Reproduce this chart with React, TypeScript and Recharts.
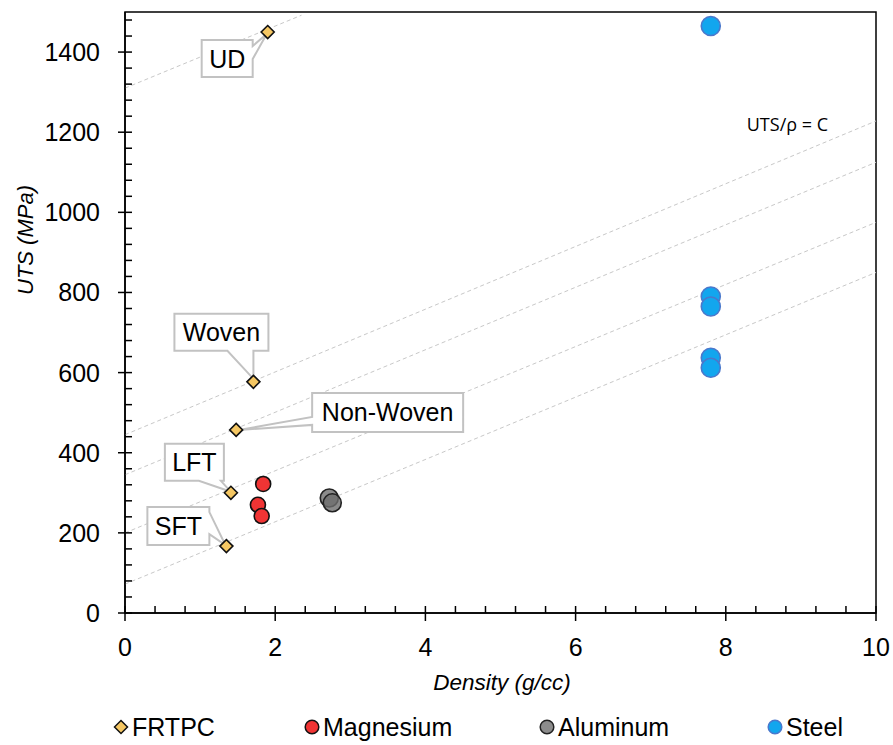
import React from 'react';
import {
  ScatterChart,
  Scatter,
  XAxis,
  YAxis,
  ReferenceLine,
  ReferenceArea,
  ReferenceDot,
  Legend,
  Label,
} from 'recharts';

// ---------- data ----------
const frtpcDensity = [1.9, 1.71, 1.48, 1.41, 1.35];
const frtpcUts = [1450, 577, 457, 300, 167];
const frtpcLabels = ['UD', 'Woven', 'Non-Woven', 'LFT', 'SFT'];

const magnesiumDensity = [1.84, 1.77, 1.82];
const magnesiumUts = [322, 270, 242];

const aluminumDensity = [2.72, 2.76];
const aluminumUts = [287, 275];

const steelDensity = [7.8, 7.8, 7.8, 7.8, 7.8];
const steelUts = [1465, 790, 765, 637, 612];

// dashed guide lines (start / end in data units)
const guideStartX = [0, 0, 0, 0, 0];
const guideStartY = [1310, 445, 345, 200, 72];
const guideEndX = [2.35, 10, 10, 10, 10];
const guideEndY = [1492, 1228, 1125, 975, 850];

const guideNote = 'UTS/ρ = C';
const guideNoteX = 8.82;
const guideNoteY = 1218;

// axis ticks
const xMajorTicks = [0, 2, 4, 6, 8, 10];
const yMajorTicks = [0, 200, 400, 600, 800, 1000, 1200, 1400];
const xMinorPerMajor = 5;
const yMinorPerMajor = 5;
const xDomain = [0, 10];
const yDomain = [0, 1500];

const xTitle = 'Density (g/cc)';
const yTitle = 'UTS (MPa)';

const seriesNames = ['FRTPC', 'Magnesium', 'Aluminum', 'Steel'];

// ---------- styles ----------
const FONT = '"Liberation Sans", Arial, Helvetica, sans-serif';
const W = 893;
const H = 745;
const TICK_SIZE = 8;
const TICK_MARGIN = 17;

const COLORS = {
  frtpc: '#F5C763',
  magnesium: '#F03434',
  aluminum: '#6E6E6E',
  steel: '#12A6EE',
  steelStroke: '#4A78CC',
  guide: '#C8C8C8',
  callout: '#C2C2C2',
};

// callout layout, pixel offsets relative to the marker
const calloutLayout = [
  { box: [-66, 8, -15, 45], side: 'right', base: [14, 27], tip: [-1, 2] },
  { box: [-79, -68, 15, -31], side: 'bottom', base: [-26, 0], tip: [0, -3] },
  { box: [76, -37, 227, 2], side: 'left', base: [-13, -5], tip: [3, 0] },
  { box: [-66, -49, -7, -12], side: 'bottom', base: [-32, -10], tip: [0, -1] },
  { box: [-79, -39, -17, -1], side: 'right', base: [-34, -12], tip: [-1, -1] },
];

const legendLeft = [113, 304, 539, 767];

// ---------- tables ----------
const frtpcData = frtpcDensity.map((x, i) => ({ x, y: frtpcUts[i], label: frtpcLabels[i], idx: i }));
const magnesiumData = magnesiumDensity.map((x, i) => ({ x, y: magnesiumUts[i] }));
const aluminumData = aluminumDensity.map((x, i) => ({ x, y: aluminumUts[i] }));
const steelData = steelDensity.map((x, i) => ({ x, y: steelUts[i] }));

function subdivide(major: number[], n: number): number[] {
  const out: number[] = [];
  for (let i = 0; i < major.length; i++) {
    out.push(major[i]);
    if (i < major.length - 1) {
      const step = (major[i + 1] - major[i]) / n;
      for (let k = 1; k < n; k++) out.push(Math.round((major[i] + k * step) * 1000) / 1000);
    }
  }
  return out;
}
const xTicks = subdivide(xMajorTicks, xMinorPerMajor);
const yTicksBase = subdivide(yMajorTicks, yMinorPerMajor);
const yStep = (yMajorTicks[1] - yMajorTicks[0]) / yMinorPerMajor;
const yTicks = [...yTicksBase];
for (let v = yMajorTicks[yMajorTicks.length - 1] + yStep; v < yDomain[1]; v += yStep) yTicks.push(v);

// ---------- renderers ----------
function calloutPath(cx: number, cy: number, c: any): string {
  const x0 = cx + c.box[0];
  const y0 = cy + c.box[1];
  const x1 = cx + c.box[2];
  const y1 = cy + c.box[3];
  const tx = cx + c.tip[0];
  const ty = cy + c.tip[1];
  const lo = Math.min(c.base[0], c.base[1]);
  const hi = Math.max(c.base[0], c.base[1]);
  const pts: number[][] = [];
  pts.push([x0, y0]);
  if (c.side === 'top') pts.push([cx + lo, y0], [tx, ty], [cx + hi, y0]);
  pts.push([x1, y0]);
  if (c.side === 'right') pts.push([x1, cy + lo], [tx, ty], [x1, cy + hi]);
  pts.push([x1, y1]);
  if (c.side === 'bottom') pts.push([cx + hi, y1], [tx, ty], [cx + lo, y1]);
  pts.push([x0, y1]);
  if (c.side === 'left') pts.push([x0, cy + hi], [tx, ty], [x0, cy + lo]);
  return 'M' + pts.map((p) => p.join(',')).join('L') + 'Z';
}

const Diamond = ({ cx, cy, r = 6.5 }: any) => (
  <polygon
    points={`${cx},${cy - r} ${cx + r},${cy} ${cx},${cy + r} ${cx - r},${cy}`}
    fill={COLORS.frtpc}
    stroke="#111"
    strokeWidth={1.6}
  />
);

const FrtpcShape = (props: any) => {
  const { cx, cy, payload } = props;
  if (cx == null || cy == null) return null;
  const idx = payload && payload.idx != null ? payload.idx : props.index;
  const c = calloutLayout[idx];
  const label = payload ? payload.label : '';
  return (
    <g>
      {c && (
        <g>
          <path d={calloutPath(cx, cy, c)} fill="#fff" stroke={COLORS.callout} strokeWidth={2} />
          <text
            x={cx + (c.box[0] + c.box[2]) / 2}
            y={cy + (c.box[1] + c.box[3]) / 2}
            dy="0.36em"
            textAnchor="middle"
            fontFamily={FONT}
            fontSize={25}
            fill="#000"
          >
            {label}
          </text>
        </g>
      )}
      <Diamond cx={cx} cy={cy} />
    </g>
  );
};

const makeCircle = (r: number, fill: string, stroke: string, opacity = 1) => (props: any) => {
  const { cx, cy } = props;
  if (cx == null || cy == null) return null;
  return <circle cx={cx} cy={cy} r={r} fill={fill} fillOpacity={opacity} stroke={stroke} strokeWidth={1.6} />;
};

const MgShape = makeCircle(7.5, COLORS.magnesium, '#111');
const AlShape = makeCircle(9, COLORS.aluminum, '#222', 0.8);
const SteelShape = makeCircle(9.5, COLORS.steel, COLORS.steelStroke);

const YTick = (props: any) => {
  const { x, y, payload } = props;
  const v = payload.value;
  const axisX = x + TICK_SIZE + TICK_MARGIN;
  const major = yMajorTicks.includes(v);
  return (
    <g>
      <line
        x1={major ? axisX - 7 : axisX}
        x2={axisX + 7}
        y1={y}
        y2={y}
        stroke="#000"
        strokeWidth={1.5}
      />
      {major && (
        <text x={x} y={y} dy="0.36em" textAnchor="end" fontFamily={FONT} fontSize={25} fill="#000">
          {v}
        </text>
      )}
    </g>
  );
};

const XTick = (props: any) => {
  const { x, y, payload } = props;
  const v = payload.value;
  const axisY = y - TICK_SIZE - TICK_MARGIN;
  const major = xMajorTicks.includes(v);
  return (
    <g>
      <line
        x1={x}
        x2={x}
        y1={axisY - 7}
        y2={major ? axisY + 8 : axisY}
        stroke="#000"
        strokeWidth={1.5}
      />
      {major && (
        <text x={x} y={y} dy="0.71em" textAnchor="middle" fontFamily={FONT} fontSize={25} fill="#000">
          {v}
        </text>
      )}
    </g>
  );
};

const legendMarker = (i: number) => {
  if (i === 0)
    return (
      <svg width={16} height={16} style={{ display: 'block' }}>
        <polygon points="8,1.5 14.5,8 8,14.5 1.5,8" fill={COLORS.frtpc} stroke="#111" strokeWidth={1.5} />
      </svg>
    );
  const fills = [COLORS.frtpc, COLORS.magnesium, '#8C8C8C', COLORS.steel];
  const strokes = ['#111', '#111', '#222', COLORS.steelStroke];
  return (
    <svg width={16} height={16} style={{ display: 'block' }}>
      <circle cx={8} cy={8} r={6.8} fill={fills[i]} stroke={strokes[i]} strokeWidth={1.5} />
    </svg>
  );
};

const renderLegend = () => (
  <div style={{ position: 'relative', width: W, height: 40, fontFamily: FONT, fontSize: 25, color: '#000' }}>
    {seriesNames.map((name, i) => (
      <div
        key={name}
        style={{
          position: 'absolute',
          left: legendLeft[i],
          top: 8,
          display: 'flex',
          alignItems: 'center',
          whiteSpace: 'nowrap',
          lineHeight: '28px',
        }}
      >
        {legendMarker(i)}
        <span style={{ marginLeft: 3 }}>{name}</span>
      </div>
    ))}
  </div>
);

export default function App() {
  return (
    <div style={{ position: 'absolute', left: 0, top: 0, width: W, height: H, background: '#fff' }}>
      <ScatterChart width={W} height={H} margin={{ top: 12, right: 17, bottom: 0, left: 0 }}>
        <XAxis
          type="number"
          dataKey="x"
          domain={xDomain}
          ticks={xTicks}
          interval={0}
          allowDataOverflow
          height={92}
          tickSize={TICK_SIZE}
          tickMargin={TICK_MARGIN}
          tickLine={false}
          axisLine={{ stroke: '#000', strokeWidth: 1.5 }}
          tick={<XTick />}
        >
          <Label
            content={() => (
              <text
                x={502}
                y={682}
                dy="0.36em"
                textAnchor="middle"
                fontFamily={FONT}
                fontStyle="italic"
                fontSize={22.5}
                fill="#000"
              >
                {xTitle}
              </text>
            )}
          />
        </XAxis>
        <YAxis
          type="number"
          dataKey="y"
          domain={yDomain}
          ticks={yTicks}
          interval={0}
          allowDataOverflow
          width={125}
          tickSize={TICK_SIZE}
          tickMargin={TICK_MARGIN}
          tickLine={false}
          axisLine={{ stroke: '#000', strokeWidth: 1.5 }}
          tick={<YTick />}
        >
          <Label
            content={() => (
              <text
                x={25}
                y={240}
                dy="0.36em"
                textAnchor="middle"
                fontFamily={FONT}
                fontStyle="italic"
                fontSize={22}
                fill="#000"
                transform="rotate(-90 25 240)"
              >
                {yTitle}
              </text>
            )}
          />
        </YAxis>
        {guideStartY.map((sy, i) => (
          <ReferenceLine
            key={'g' + i}
            segment={[
              { x: guideStartX[i], y: sy },
              { x: guideEndX[i], y: guideEndY[i] },
            ]}
            stroke={COLORS.guide}
            strokeWidth={1}
            strokeDasharray="4 3"
            ifOverflow="hidden"
          />
        ))}
        <ReferenceArea
          x1={xDomain[0]}
          x2={xDomain[1]}
          y1={yDomain[0]}
          y2={yDomain[1]}
          fill="none"
          fillOpacity={0}
          stroke="#000"
          strokeWidth={1.5}
          ifOverflow="visible"
        />
        <ReferenceDot
          x={guideNoteX}
          y={guideNoteY}
          r={0}
          fill="none"
          stroke="none"
          label={{
            value: guideNote,
            position: 'center',
            fontFamily: '"Open Sans", "Noto Sans", sans-serif',
            fontSize: 18,
            fill: '#000',
          }}
        />
        <Scatter name={seriesNames[0]} data={frtpcData} shape={FrtpcShape} isAnimationActive={false} />
        <Scatter name={seriesNames[1]} data={magnesiumData} shape={MgShape} isAnimationActive={false} />
        <Scatter name={seriesNames[2]} data={aluminumData} shape={AlShape} isAnimationActive={false} />
        <Scatter name={seriesNames[3]} data={steelData} shape={SteelShape} isAnimationActive={false} />
        <Legend
          verticalAlign="bottom"
          height={40}
          content={renderLegend}
          wrapperStyle={{ left: 0, width: W, height: 40 }}
        />
      </ScatterChart>
    </div>
  );
}
